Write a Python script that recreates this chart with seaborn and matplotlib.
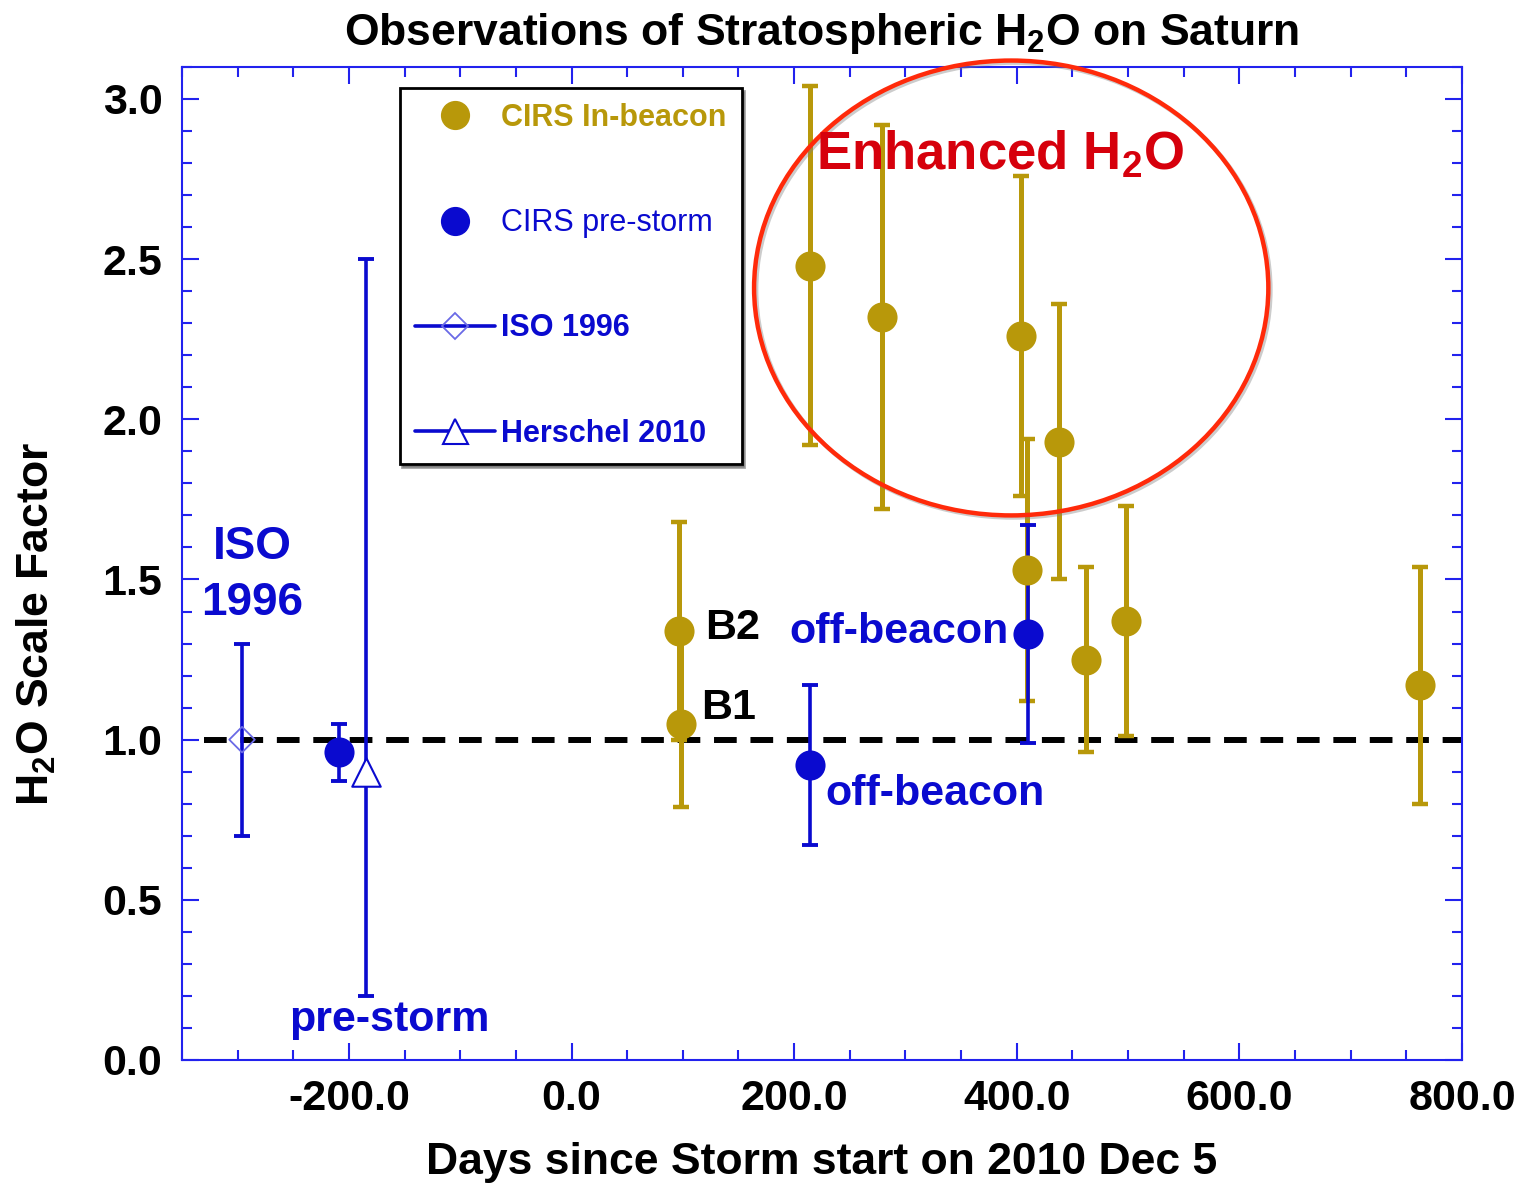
"""
Stratospheric H2O scale factor on Saturn vs days since the 2010 storm start.
"""

import numpy as np
import pandas as pd
import matplotlib
matplotlib.use("Agg")
import matplotlib.pyplot as plt
import seaborn as sns
from matplotlib.patches import Ellipse
from matplotlib.lines import Line2D
from matplotlib.ticker import MultipleLocator, FormatStrFormatter
import matplotlib.patheffects as pe

# ---------------------------------------------------------------- data
# CIRS in-beacon retrievals
beacon_days = [97, 98, 214, 279, 404, 409, 438, 462, 498, 762]
beacon_h2o = [1.34, 1.05, 2.48, 2.32, 2.26, 1.53, 1.93, 1.25, 1.37, 1.17]
beacon_err = [0.34, 0.26, 0.56, 0.60, 0.50, 0.41, 0.43, 0.29, 0.36, 0.37]

# CIRS pre-storm / off-beacon retrievals
prestorm_days = [-209, 214, 410]
prestorm_h2o = [0.96, 0.92, 1.33]
prestorm_err = [0.09, 0.25, 0.34]

# ISO 1996
iso_days = [-296]
iso_h2o = [1.0]
iso_err = [0.30]

# Herschel 2010 (asymmetric error)
herschel_days = [-185]
herschel_h2o = [0.90]
herschel_err_lo = [0.70]
herschel_err_hi = [1.60]

reference_level = 1.0

# enhanced region outline (centre, width, height in data units)
enhanced_center = (395, 2.41)
enhanced_width = 462
enhanced_height = 1.42

GOLD = '#B8980A'
BLUE = '#0A0ACF'
ISO_BLUE = '#6A6AE6'
AXIS_BLUE = '#2222EE'
RED_TEXT = '#D6000C'
RED_LINE = '#FF2A0A'

sns.set_style("white")
plt.rcParams['font.family'] = ['Liberation Sans', 'DejaVu Sans']
plt.rcParams['text.color'] = 'black'
plt.rcParams['axes.labelcolor'] = 'black'
plt.rcParams['xtick.color'] = 'black'
plt.rcParams['ytick.color'] = 'black'
plt.rcParams['mathtext.fontset'] = 'custom'
plt.rcParams['mathtext.rm'] = 'Liberation Sans:bold'
plt.rcParams['mathtext.it'] = 'Liberation Sans:bold'
plt.rcParams['mathtext.bf'] = 'Liberation Sans:bold'


def main():
    fig = plt.figure(figsize=(15.25, 11.83), dpi=100)
    ax = fig.add_axes([0.1193, 0.104, 0.8394, 0.8394])

    beacon = pd.DataFrame({'days': beacon_days, 'h2o': beacon_h2o})
    prestorm = pd.DataFrame({'days': prestorm_days, 'h2o': prestorm_h2o})

    # reference line
    ax.plot([-330, 800], [reference_level, reference_level], color='black',
            lw=4.3, ls=(0, (3.8, 2.3)), zorder=2)

    # error bars
    ax.errorbar(beacon_days, beacon_h2o, yerr=beacon_err, fmt='none',
                ecolor=GOLD, elinewidth=3.6, capsize=6, capthick=3.2, zorder=3)
    ax.errorbar(prestorm_days, prestorm_h2o, yerr=prestorm_err, fmt='none',
                ecolor=BLUE, elinewidth=2.6, capsize=6, capthick=2.8, zorder=4)
    ax.errorbar(iso_days, iso_h2o, yerr=iso_err, fmt='none',
                ecolor=BLUE, elinewidth=2.6, capsize=6, capthick=2.8, zorder=3)
    ax.errorbar(herschel_days, herschel_h2o,
                yerr=[herschel_err_lo, herschel_err_hi], fmt='none',
                ecolor=BLUE, elinewidth=2.6, capsize=6, capthick=2.8, zorder=3)

    # markers
    sns.scatterplot(data=beacon, x='days', y='h2o', ax=ax, color=GOLD,
                    s=470, edgecolor=GOLD, linewidth=0, zorder=5, legend=False)
    sns.scatterplot(data=prestorm, x='days', y='h2o', ax=ax, color=BLUE,
                    s=470, edgecolor=BLUE, linewidth=0, zorder=6, legend=False)
    ax.scatter(iso_days, iso_h2o, marker='D', s=170, facecolor='none',
               edgecolor=ISO_BLUE, linewidth=1.3, zorder=5)
    ax.scatter(herschel_days, herschel_h2o, marker='^', s=420, facecolor='white',
               edgecolor=BLUE, linewidth=1.5, zorder=5)

    # enhanced region
    ell = Ellipse(enhanced_center, enhanced_width, enhanced_height, fill=False,
                  edgecolor=RED_LINE, lw=3.2, zorder=7, clip_on=False,
                  path_effects=[pe.SimpleLineShadow(offset=(1.5, -1.5),
                                                    shadow_color='0.5', alpha=0.4),
                                pe.Normal()])
    ax.add_patch(ell)

    # annotations
    ax.text(385, 2.78, 'Enhanced H$_2$O', color=RED_TEXT, fontsize=38,
            fontweight='bold', ha='center', va='baseline', zorder=8)
    ax.text(-287, 1.515, 'ISO\n1996', color=BLUE, fontsize=33, fontweight='bold',
            ha='center', va='center', linespacing=1.35)
    ax.text(-254, 0.125, 'pre-storm', color=BLUE, fontsize=31, fontweight='bold',
            ha='left', va='center')
    ax.text(196, 1.335, 'off-beacon', color=BLUE, fontsize=31, fontweight='bold',
            ha='left', va='center')
    ax.text(228, 0.83, 'off-beacon', color=BLUE, fontsize=31, fontweight='bold',
            ha='left', va='center')
    ax.text(120, 1.35, 'B2', color='black', fontsize=31, fontweight='bold',
            ha='left', va='center')
    ax.text(116, 1.10, 'B1', color='black', fontsize=31, fontweight='bold',
            ha='left', va='center')

    # axes
    ax.set_xlim(-350, 800)
    ax.set_ylim(0, 3.1)
    ax.xaxis.set_major_locator(MultipleLocator(200))
    ax.xaxis.set_minor_locator(MultipleLocator(50))
    ax.yaxis.set_major_locator(MultipleLocator(0.5))
    ax.yaxis.set_minor_locator(MultipleLocator(0.1))
    ax.xaxis.set_major_formatter(FormatStrFormatter('%.1f'))
    ax.yaxis.set_major_formatter(FormatStrFormatter('%.1f'))
    ax.tick_params(which='both', direction='in', top=True, right=True,
                   bottom=True, left=True, color=AXIS_BLUE, width=1.5)
    ax.tick_params(which='major', length=12, labelsize=31, pad=14,
                   labelcolor='black')
    ax.tick_params(which='minor', length=7)
    for lab in ax.get_xticklabels() + ax.get_yticklabels():
        lab.set_fontweight('bold')
    for sp in ax.spines.values():
        sp.set_color(AXIS_BLUE)
        sp.set_linewidth(1.5)

    ax.set_xlabel('Days since Storm start on 2010 Dec 5', fontsize=32,
                  fontweight='bold', labelpad=16)
    ax.set_ylabel('H$_2$O Scale Factor', fontsize=32, fontweight='bold')
    ax.yaxis.set_label_coords(-0.097, 0.439)
    ax.set_title('Observations of Stratospheric H$_2$O on Saturn', fontsize=32,
                 fontweight='bold', pad=16)

    # legend
    handles = [
        Line2D([], [], ls='none', marker='o', ms=20, color=GOLD),
        Line2D([], [], ls='none', marker='o', ms=20, color=BLUE),
        Line2D([], [], color=BLUE, lw=2.6, marker='D', ms=13,
               mfc='none', mec=ISO_BLUE, mew=1.3),
        Line2D([], [], color=BLUE, lw=2.6, marker='^', ms=18,
               mfc='white', mec=BLUE, mew=1.5),
    ]
    labels = ['CIRS In-beacon', 'CIRS pre-storm', 'ISO 1996', 'Herschel 2010']
    leg = ax.legend(handles, labels, loc='upper left',
                    bbox_to_anchor=(0.170, 0.979), fancybox=False, shadow=True,
                    framealpha=1, edgecolor='black', fontsize=22,
                    labelspacing=2.46, handlelength=2.62, handletextpad=0.2,
                    borderpad=0.5, borderaxespad=0)
    leg.get_frame().set_linewidth(2)
    text_styles = [(GOLD, 'bold'), (BLUE, 'normal'), (BLUE, 'bold'), (BLUE, 'bold')]
    for txt, (c, w) in zip(leg.get_texts(), text_styles):
        txt.set_color(c)
        txt.set_fontweight(w)
    leg.set_zorder(9)

    fig.savefig('out.png', dpi=100)
    plt.close(fig)


if __name__ == "__main__":
    main()
